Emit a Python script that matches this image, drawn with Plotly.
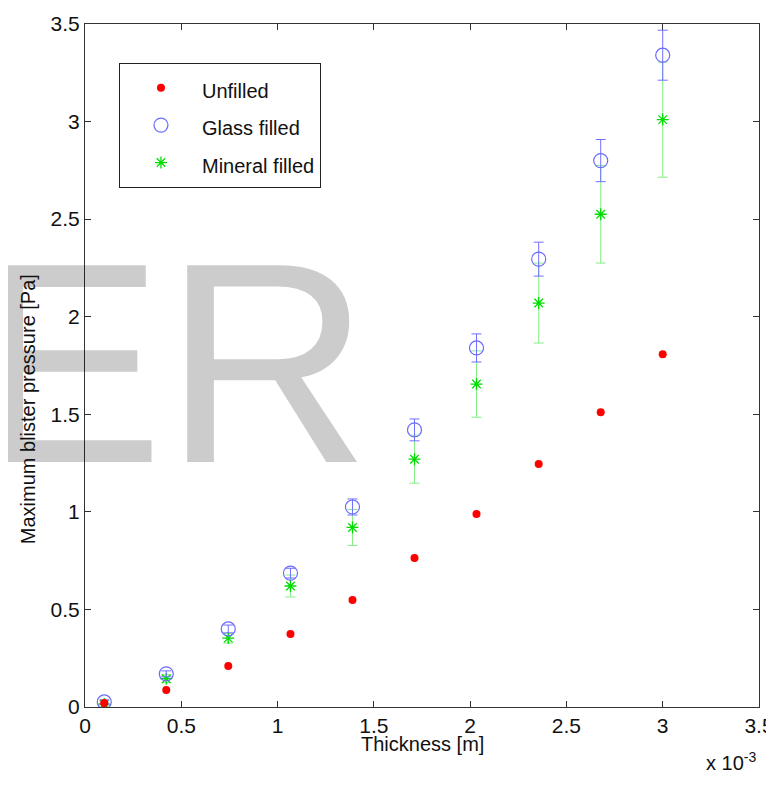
import plotly.graph_objects as go

# Data (thickness in metres, pressure in Pa)
thickness = [0.0001, 0.000422, 0.000744, 0.001067, 0.001389, 0.001711, 0.002033, 0.002356, 0.002678, 0.0030]
unfilled = [0.02, 0.087, 0.21, 0.374, 0.548, 0.763, 0.989, 1.245, 1.511, 1.808]
glass = [0.026, 0.17, 0.40, 0.686, 1.025, 1.42, 1.84, 2.295, 2.80, 3.34]
glass_err = [0.01, 0.015, 0.02, 0.025, 0.041, 0.056, 0.072, 0.087, 0.108, 0.128]
mineral = [0.015, 0.145, 0.353, 0.62, 0.92, 1.27, 1.655, 2.07, 2.525, 3.01]
mineral_err = [0.01, 0.02, 0.025, 0.056, 0.092, 0.123, 0.17, 0.205, 0.25, 0.295]

x_tickvals = [0, 0.0005, 0.001, 0.0015, 0.002, 0.0025, 0.003, 0.0035]
x_ticktext = ["0", "0.5", "1", "1.5", "2", "2.5", "3", "3.5"]
y_tickvals = [0, 0.5, 1, 1.5, 2, 2.5, 3, 3.5]
y_ticktext = ["0", "0.5", "1", "1.5", "2", "2.5", "3", "3.5"]

FONT = "Liberation Sans, Arial, sans-serif"

fig = go.Figure()

fig.add_trace(go.Scatter(
    x=thickness, y=mineral, mode="markers",
    name="<span style='font-size:20px'>Mineral filled</span>",
    marker=dict(symbol="asterisk-open", size=10, color="#00dd00",
                line=dict(color="#00dd00", width=1.3)),
    error_y=dict(type="data", array=mineral_err, visible=True,
                 color="#86ee86", thickness=1, width=5),
    legendrank=3,
))
fig.add_trace(go.Scatter(
    x=thickness, y=glass, mode="markers",
    name="<span style='font-size:20px'>Glass filled</span>",
    marker=dict(symbol="circle-open", size=14, color="#6a6aff",
                line=dict(color="#6a6aff", width=1.2)),
    error_y=dict(type="data", array=glass_err, visible=True,
                 color="#7070ff", thickness=1, width=5),
    legendrank=2,
))
fig.add_trace(go.Scatter(
    x=thickness, y=unfilled, mode="markers",
    name="<span style='font-size:20px'>Unfilled</span>",
    marker=dict(symbol="circle", size=8, color="#ff0000"),
    legendrank=1,
))

# the page body adds an 8px offset, so the figure is sized to fit the window
fig.update_layout(
    width=766, height=781,
    margin=dict(l=77, r=15, t=16, b=82, autoexpand=False),
    paper_bgcolor="white", plot_bgcolor="white",
    font=dict(family=FONT, size=20, color="#111111"),
    showlegend=True,
    legend=dict(
        x=0.0504, y=0.943, xanchor="left", yanchor="top",
        bordercolor="#222222", borderwidth=1, bgcolor="white",
        font=dict(family=FONT, size=26.5, color="#111111"),
        itemwidth=72,
    ),
    xaxis=dict(
        range=[0, 0.0035], tickvals=x_tickvals, ticktext=x_ticktext,
        showgrid=False, zeroline=False, automargin=False,
        showline=True, linecolor="#333333", linewidth=1, mirror="ticks",
        ticks="inside", ticklen=6, tickcolor="#333333",
        tickfont=dict(family=FONT, size=21, color="#111111"),
    ),
    yaxis=dict(
        range=[0, 3.5], tickvals=y_tickvals, ticktext=y_ticktext,
        showgrid=False, zeroline=False, automargin=False,
        showline=True, linecolor="#333333", linewidth=1, mirror="ticks",
        ticks="inside", ticklen=6, tickcolor="#333333",
        tickfont=dict(family=FONT, size=21, color="#111111"),
    ),
)

# watermark
fig.add_annotation(
    text="ER", xref="paper", yref="paper",
    x=-0.1695, y=0.503, xanchor="left", yanchor="middle",
    showarrow=False,
    font=dict(family=FONT, size=286, color="rgba(0,0,0,0.2)"),
)
# axis titles
fig.add_annotation(
    text="Thickness [m]", xref="paper", yref="paper",
    x=0.5, y=-0.0542, xanchor="center", yanchor="middle",
    showarrow=False, font=dict(family=FONT, size=20, color="#111111"),
)
fig.add_annotation(
    text="Maximum blister pressure [Pa]", xref="paper", yref="paper",
    x=-0.0846, y=0.436, xanchor="center", yanchor="middle", textangle=-90,
    showarrow=False, font=dict(family=FONT, size=20, color="#111111"),
)
# exponent label
fig.add_annotation(
    text="x 10<sup>-3</sup>", xref="paper", yref="paper",
    x=0.918, y=-0.08, xanchor="left", yanchor="middle",
    showarrow=False,
    font=dict(family=FONT, size=20, color="#111111"),
)

fig.write_html("out.html")
